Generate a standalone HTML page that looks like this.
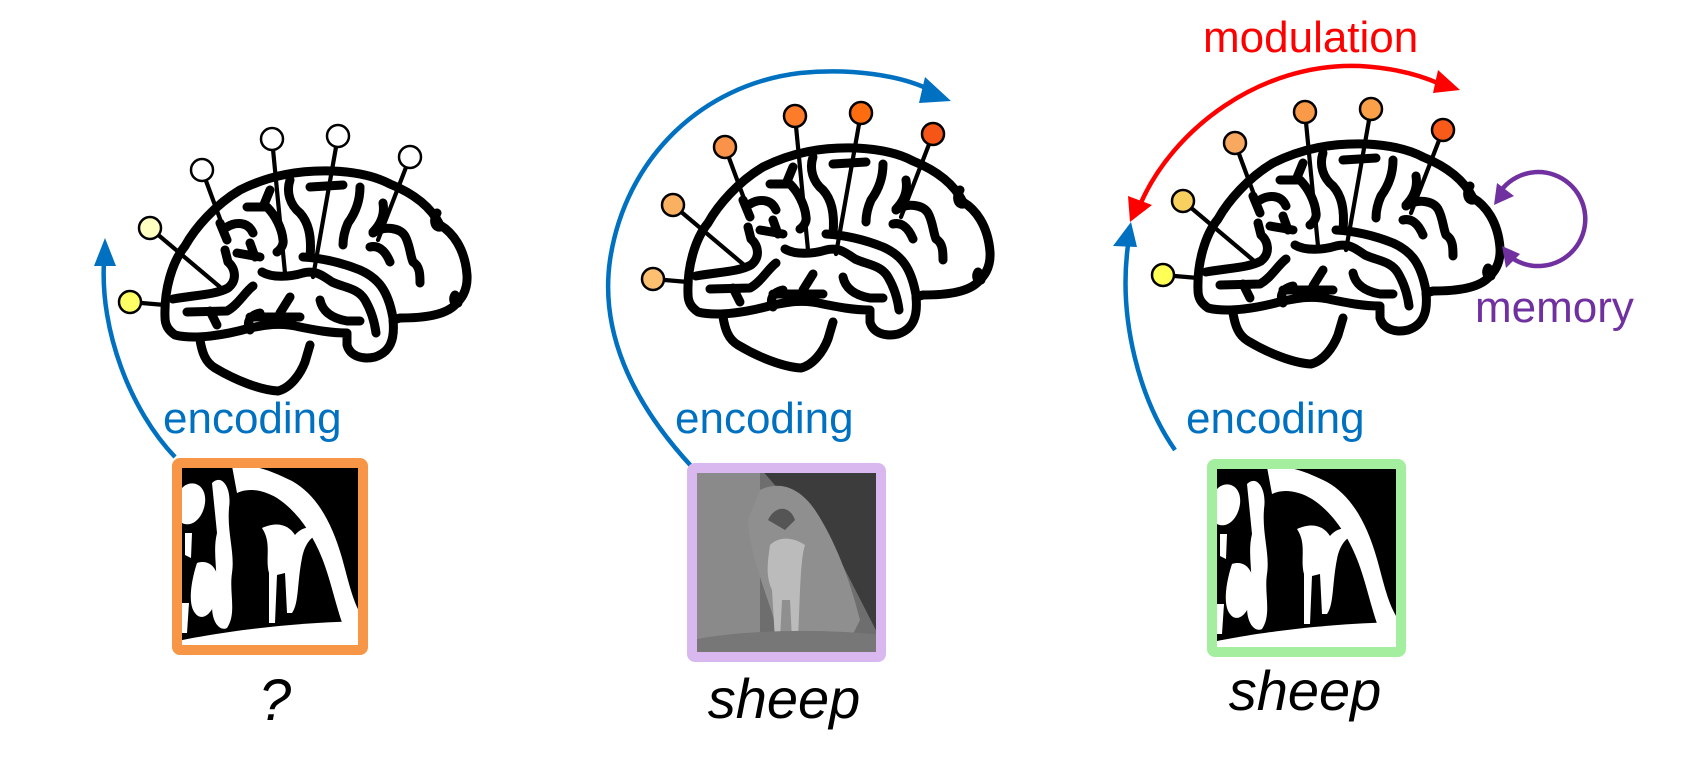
<!DOCTYPE html>
<html><head><meta charset="utf-8"><style>
html,body{margin:0;padding:0;background:#fff;}
svg{display:block;}
text{font-family:"Liberation Sans",Arial,sans-serif;}
</style></head><body>
<svg width="1696" height="782" viewBox="0 0 1696 782" xmlns="http://www.w3.org/2000/svg">
<defs>
<g id="brain" fill="none" stroke="#000" stroke-width="9" stroke-linecap="round" stroke-linejoin="round">
<path d="M165,317 C164,290 172,262 185,246 C195,228 215,205 240,190 C270,175 300,170 333,171 C355,172 375,176 390,184 C410,192 430,205 440,225 C452,232 465,248 467,275 C468,292 460,300 455,305 C445,315 425,318 400,318 L393,320 C395,340 390,352 375,357 C362,360 350,356 347,345 L347,333 C330,333 315,330 300,327 C280,322 265,325 250,328 C225,335 195,340 175,335 C168,330 165,325 165,317 Z"/>
<path d="M200,340 C202,352 205,362 215,368 C235,380 260,390 278,391 C290,388 300,375 305,362 L310,345"/>
<path d="M173,299 C195,295 215,295 228,288 C238,280 235,268 228,262 L225,250"/>
<path d="M187,312 L227,311 C238,305 245,292 253,286"/>
<path d="M210,311 L217,325"/>
<path d="M262,272 C272,278 290,277 303,273 C315,270 322,275 332,282 C345,288 358,288 365,300 C372,312 375,325 376,333"/>
<path d="M303,257 C320,258 340,262 360,270 C378,278 388,290 393,318"/>
<path d="M320,300 C322,310 330,318 347,321 L360,321"/>
<path d="M290,297 L280,313 M250,317 L300,317 M250,330 C246,322 250,315 260,313"/>
<path d="M220,223 L227,240 M227,227 C235,222 248,221 253,233 M237,253 L260,257 M250,243 L255,257 M247,207 L267,207 C275,215 282,228 283,240 C284,245 280,250 277,252 M270,190 L263,207"/>
<path d="M290,180 C286,192 290,205 300,213 C308,222 312,235 310,257 M310,187 L343,185 M360,187 C360,200 356,212 348,223 C344,232 343,240 343,245"/>
<path d="M383,203 C385,215 380,225 373,232 M373,233 C385,225 400,228 405,236 C410,245 410,255 413,262 C420,266 420,275 420,283 M370,247 C378,245 385,250 390,262 M437,213 C432,222 436,228 440,227 M455,295 C452,300 455,305 458,303"/>
</g>
<g id="pinlines" stroke="#000" stroke-width="4.2" stroke-linecap="round">
<line x1="130" y1="302" x2="165" y2="305"/>
<line x1="150" y1="228" x2="220" y2="287"/>
<line x1="202" y1="170" x2="223" y2="227"/>
<line x1="272" y1="139" x2="285" y2="273"/>
<line x1="338" y1="136" x2="313" y2="277"/>
<line x1="410" y1="157" x2="378" y2="240"/>
</g>
<g id="bin">
<rect x="0" y="0" width="186" height="187" fill="#000"/>
<g fill="#fff">
<path d="M55,3 C75,0 95,8 115,18 C140,32 155,60 165,95 C172,120 176,140 186,155 L186,187 L170,172 C160,150 155,120 145,95 C135,70 120,48 100,35 C85,26 70,25 60,30 Z"/>
<path d="M0,187 L0,178 C50,168 110,160 186,158 L186,187 Z"/>
<path d="M5,25 C15,15 30,22 28,40 C26,55 15,65 5,60 Z"/>
<path d="M35,20 C45,10 55,25 52,45 C50,70 58,90 55,110 C52,130 60,150 50,165 C40,170 30,150 38,130 C42,110 35,90 40,70 Z"/>
<path d="M20,100 C35,95 45,110 40,130 C38,150 25,160 18,150 C10,140 15,115 20,100 Z"/>
<path d="M8,70 L15,70 L14,95 L8,92 Z"/>
<path d="M85,65 C100,58 112,62 118,72 C126,62 140,62 145,70 C135,72 128,80 125,95 C120,120 122,140 115,150 L110,150 L108,110 L100,112 L98,160 L92,160 L92,110 C88,95 95,80 85,65 Z"/>
<path d="M5,140 L12,140 L10,170 L5,170 Z"/>
</g>
</g>
</defs>

<!-- Panel 1 -->
<use href="#brain"/>
<use href="#pinlines"/>
<g stroke="#000" stroke-width="2.5">
<circle cx="130" cy="302" r="11" fill="#ffff66"/>
<circle cx="150" cy="228" r="11" fill="#ffffc2"/>
<circle cx="202" cy="170" r="11" fill="#fff"/>
<circle cx="272" cy="139" r="11" fill="#fff"/>
<circle cx="338" cy="136" r="11" fill="#fff"/>
<circle cx="410" cy="157" r="11" fill="#fff"/>
</g>
<path d="M175,457 C130,410 100,330 104,262" fill="none" stroke="#0070c0" stroke-width="4.5"/>
<polygon points="105,238 94,266 116,266" fill="#0070c0"/>
<text x="163" y="433" font-size="44" fill="#0070c0">encoding</text>
<use href="#bin" transform="translate(177,463)"/>
<rect x="177" y="463" width="186" height="187" rx="3" fill="none" stroke="#f79646" stroke-width="10"/>
<text x="275" y="720" font-size="58" font-style="italic" text-anchor="middle" fill="#000">?</text>

<!-- Panel 2 -->
<g transform="translate(523,-23)">
<use href="#brain"/>
<use href="#pinlines"/>
<g stroke="#000" stroke-width="2.5">
<circle cx="130" cy="302" r="11" fill="#fdc070"/>
<circle cx="150" cy="228" r="11" fill="#f9b060"/>
<circle cx="202" cy="170" r="11" fill="#f9934a"/>
<circle cx="272" cy="139" r="11" fill="#fd7c2a"/>
<circle cx="338" cy="136" r="11" fill="#fd6d10"/>
<circle cx="410" cy="157" r="11" fill="#f55516"/>
</g>
</g>
<path d="M692,467 C630,400 600,330 610,260 C625,160 700,85 800,73 C850,68 900,75 930,90" fill="none" stroke="#0070c0" stroke-width="4.5"/>
<polygon points="951,101 925,77 919,103" fill="#0070c0"/>
<text x="675" y="433" font-size="44" fill="#0070c0">encoding</text>
<rect x="692" y="468" width="189" height="189" fill="#6e6e6e"/>
<path d="M692,468 L760,468 L760,657 L692,657 Z" fill="#8a8a8a"/>
<path d="M760,468 L881,468 L881,640 L840,560 Z" fill="#3c3c3c"/>
<path d="M760,490 C780,480 800,488 815,510 C835,540 850,580 860,620 L850,640 L780,640 C770,600 750,560 748,520 Z" fill="#8f8f8f"/>
<path d="M768,520 C775,505 790,505 795,520 L785,530 Z" fill="#555"/>
<path d="M770,545 C780,535 795,538 805,545 C800,560 800,600 798,640 L792,640 L790,600 L782,600 L780,640 L775,640 L772,590 C765,575 768,560 770,545 Z" fill="#bbb"/>
<path d="M692,640 C740,630 820,628 881,635 L881,657 L692,657 Z" fill="#777"/>
<rect x="692" y="468" width="189" height="189" rx="3" fill="none" stroke="#d9b8f0" stroke-width="10"/>
<text x="784" y="718" font-size="56" font-style="italic" text-anchor="middle" fill="#000">sheep</text>

<!-- Panel 3 -->
<g transform="translate(1033,-27)">
<use href="#brain"/>
<use href="#pinlines"/>
<g stroke="#000" stroke-width="2.5">
<circle cx="130" cy="302" r="11" fill="#ffff55"/>
<circle cx="150" cy="228" r="11" fill="#f8d060"/>
<circle cx="202" cy="170" r="11" fill="#f9a860"/>
<circle cx="272" cy="139" r="11" fill="#f99a48"/>
<circle cx="338" cy="136" r="11" fill="#f9a048"/>
<circle cx="410" cy="157" r="11" fill="#f85a1a"/>
</g>
</g>
<path d="M1175,450 C1140,400 1118,320 1128,245" fill="none" stroke="#0070c0" stroke-width="4.5"/>
<polygon points="1131,222 1113,246 1137,247" fill="#0070c0"/>
<text x="1186" y="433" font-size="44" fill="#0070c0">encoding</text>
<path d="M1140,205 C1172,130 1260,62 1360,66 C1395,68 1420,75 1440,84" fill="none" stroke="#ff0000" stroke-width="4.5"/>
<polygon points="1460,90 1438,70 1433,93" fill="#ff0000"/>
<polygon points="1130,222 1128,196 1152,205" fill="#ff0000"/>
<text x="1203" y="52" font-size="44" fill="#ff0000">modulation</text>
<path d="M1503,188 A47,47 0 1 1 1508,255" fill="none" stroke="#7030a0" stroke-width="4.5"/>
<polygon points="1494,205 1497,183 1514,196" fill="#7030a0"/>
<polygon points="1502,246 1506,268 1520,254" fill="#7030a0"/>
<text x="1475" y="322" font-size="44" fill="#7030a0">memory</text>
<use href="#bin" transform="translate(1212,464)"/>
<rect x="1212" y="464" width="189" height="188" rx="3" fill="none" stroke="#a4eea0" stroke-width="10"/>
<text x="1305" y="710" font-size="56" font-style="italic" text-anchor="middle" fill="#000">sheep</text>
</svg>
</body></html>
